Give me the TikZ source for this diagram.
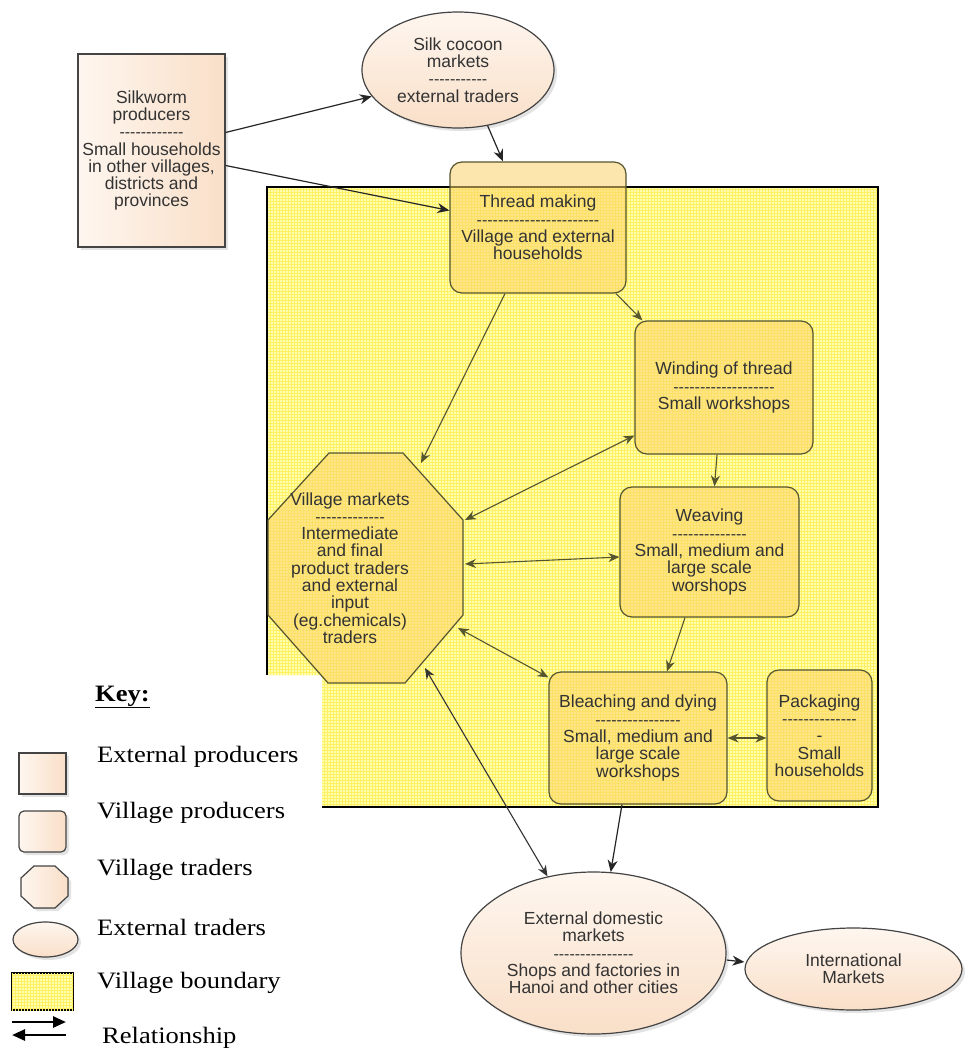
\documentclass[tikz,border=0pt]{standalone}
\usepackage{fontspec}
\usepackage{graphicx}
\setmainfont{Liberation Sans}
\newfontfamily\keyfont{Liberation Serif}
\usetikzlibrary{shapes.geometric,arrows.meta,shadows,patterns}
\definecolor{peachL}{HTML}{FEF6EF}
\definecolor{peachD}{HTML}{F9DFC8}
\definecolor{vfill}{HTML}{FBD36A}
\definecolor{ybg}{HTML}{FFFFAE}
\definecolor{ygrid}{HTML}{FFF066}
\definecolor{edge}{HTML}{444444}
\definecolor{vedge}{HTML}{55552E}
\definecolor{txt}{HTML}{333333}
\newcommand\dl[1]{{\fontsize{16}{17.3}\selectfont\foreach\dli in {1,...,#1}{\hbox{-}}}}
\newcommand\kx[1]{\scalebox{1.13}[1]{#1}}
\tikzset{
  every node/.style={font=\fontsize{17.5}{17.3}\selectfont, text=txt},
  shad/.style={drop shadow={opacity=0.22, shadow xshift=3pt, shadow yshift=-3pt}},
  extbox/.style={rectangle, draw=edge, line width=1.2pt, left color=peachL, right color=peachD, shad, inner sep=0pt, align=center},
  extell/.style={ellipse, draw=edge, line width=1.2pt, top color=peachL, bottom color=peachD, shad, inner sep=0pt, align=center},
  vbox/.style={rectangle, rounded corners=12pt, draw=vedge, line width=1.2pt, fill=vfill, fill opacity=0.55, text opacity=1, inner sep=0pt, align=center},
  voct/.style={draw=vedge, line width=1.2pt, fill=vfill, fill opacity=0.55},
  plain/.style={align=center, inner sep=0pt},
  outarr/.style={draw=black!85, line width=1.2pt, -{Stealth[length=12pt,width=10pt]}},
  inarr/.style={draw=vedge, line width=1.1pt, -{Stealth[length=11pt,width=9pt]}},
  inbi/.style={draw=vedge, line width=1.1pt, {Stealth[length=11pt,width=9pt]}-{Stealth[length=11pt,width=9pt]}},
  keytxt/.style={anchor=west, inner sep=0pt, text=black, font=\keyfont\fontsize{23.5}{26}\selectfont},
  keyarr/.style={draw=black, line width=2.6pt, -{Triangle[length=13pt,width=11pt]}},
  ypat/.style={postaction={pattern=grid, pattern color=ygrid}}
}
\begin{document}
\begin{tikzpicture}[x=1pt,y=-1pt]
\useasboundingbox (0,0) rectangle (968,1053);
\fill[white] (0,0) rectangle (968,1053);
% village boundary
\fill[ybg, ypat] (267,187) -- (878,187) -- (878,807) -- (322,807) -- (322,675) -- (267,675) -- cycle;
\draw[line width=1.8pt, black] (267,675) -- (267,187) -- (878,187) -- (878,807) -- (322,807);

% external nodes
\node[extbox, minimum width=147pt, minimum height=193pt] (sw) at (151.5,150.5)
  {Silkworm\\producers\\\dl{12}\\Small households\\in other villages,\\districts and\\provinces};
\node[extell, minimum width=192pt, minimum height=116pt] (sc) at (458,70)
  {Silk cocoon\\markets\\\dl{11}\\external traders};
\node[extell, minimum width=265pt, minimum height=162pt] (dom) at (593.5,953)
  {External domestic\\markets\\\dl{15}\\Shops and factories in\\Hanoi and other cities};
\node[extell, minimum width=217pt, minimum height=82pt] (intl) at (853.5,969)
  {International\\Markets};

% village nodes
\node[vbox, minimum width=176pt, minimum height=131pt] (tm) at (538,227.5)
  {Thread making\\\dl{23}\\Village and external\\households};
\node[vbox, minimum width=178pt, minimum height=133pt] (wind) at (724,387.5)
  {Winding of thread\\\dl{19}\\Small workshops};
\node[vbox, minimum width=179pt, minimum height=130pt] (weave) at (709.5,552)
  {Weaving\\\dl{14}\\Small, medium and\\large scale\\worshops};
\node[vbox, minimum width=178pt, minimum height=132pt] (bleach) at (638,738)
  {Bleaching and dying\\\dl{16}\\Small, medium and\\large scale\\workshops};
\node[vbox, minimum width=105pt, minimum height=131pt] (pack) at (819.5,735.5)
  {Packaging\\\dl{14}\\\hbox{-}\\Small\\households};
% village markets octagon
\filldraw[voct] (329,453) -- (403,453) -- (463,520) -- (463,615) -- (405,683) -- (328,683) -- (268,615) -- (268,520) -- cycle;
\node[plain] (vm) at (350,568)
  {Village markets\\\dl{13}\\Intermediate\\and final\\product traders\\and external\\input\\(eg.chemicals)\\traders};
\coordinate (vmA) at (421,463);
\coordinate (vmB) at (465,520);
\coordinate (vmC) at (465,564);
\coordinate (vmD) at (458,628);
\coordinate (vmE) at (425,668);

% connectors
\draw[outarr] ([yshift=18pt]sw.east) -- (sc.197);
\draw[outarr] ([yshift=-15pt]sw.east) -- ([yshift=17pt]tm.west);
\draw[outarr] (sc.298) -- ([xshift=-35pt]tm.north);
\draw[inarr] ([xshift=-33pt]tm.south) -- (vmA);
\draw[inarr] ([xshift=78pt]tm.south) -- ([xshift=8pt]wind.north west);
\draw[inarr] ([xshift=-7pt]wind.south) -- ([xshift=5pt]weave.north);
\draw[inarr] ([xshift=-24.5pt]weave.south) -- ([xshift=29pt]bleach.north);
\draw[inbi] (vmB) -- ([yshift=-48pt]wind.west);
\draw[inbi] (vmC) -- ([yshift=-5pt]weave.west);
\draw[inbi] (vmD) -- ([yshift=-6pt]bleach.north west);
\draw[inbi] (bleach.east) -- (bleach.east -| pack.west);
\draw[inbi, draw=black!80] (vmE) -- (dom.121);
\draw[outarr] ([xshift=-16pt]bleach.south) -- (dom.78);
\draw[outarr] ([yshift=-7pt]dom.east) -- ([yshift=7pt]intl.west);

% key area
\fill[white] (0,675.5) rectangle (321,1053);
\node[keytxt] (tkey) at (95,697) {\kx{\textbf{\underline{Key:}}}};
\node[extbox, minimum width=47pt, minimum height=41pt] (kep) at (42.5,773.5) {};
\node[extbox, rounded corners=5pt, minimum width=47pt, minimum height=41pt] (kvp) at (42.5,831.5) {};
\filldraw[draw=edge, line width=1.2pt, left color=peachL, right color=peachD, shad]
  (34,866) -- (55,866) -- (68,878) -- (68,896) -- (55,908) -- (34,908) -- (21,896) -- (21,878) -- cycle;
\node[extell, minimum width=65pt, minimum height=35pt] (ket) at (45.5,939.5) {};
\node[rectangle, draw=black, line width=1.6pt, fill=ybg, ypat, minimum width=61pt, minimum height=37pt, inner sep=0pt] (kvb) at (42.5,991.5) {};
\coordinate (ra1) at (12,1022);
\coordinate (ra2) at (66,1022);
\coordinate (rb1) at (66,1035);
\coordinate (rb2) at (12,1035);
\draw[keyarr] (ra1) -- (ra2);
\draw[keyarr] (rb1) -- (rb2);
\node[keytxt] (t1) at (97,757) {\kx{External producers}};
\node[keytxt] (t2) at (97,813) {\kx{Village producers}};
\node[keytxt] (t3) at (97,870) {\kx{Village traders}};
\node[keytxt] (t4) at (97,927) {\kx{External traders}};
\node[keytxt] (t5) at (97,983) {\kx{Village boundary}};
\node[keytxt] (t6) at (102,1038) {\kx{Relationship}};
\end{tikzpicture}
\end{document}
